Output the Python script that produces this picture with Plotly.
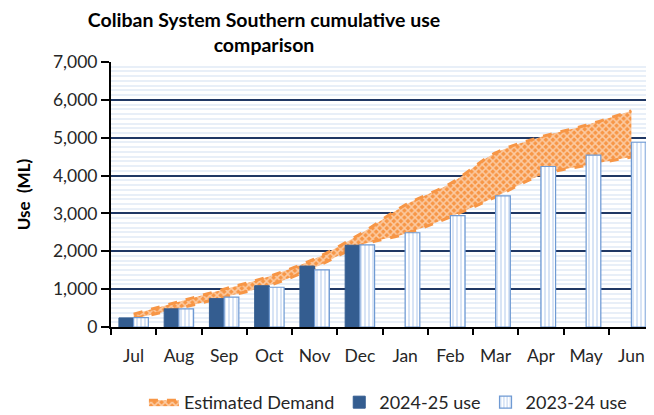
import plotly.graph_objects as go

months = ['Jul', 'Aug', 'Sep', 'Oct', 'Nov', 'Dec', 'Jan', 'Feb', 'Mar', 'Apr', 'May', 'Jun']
use_2024_25 = [240, 480, 750, 1090, 1610, 2160]
use_2023_24 = [250, 480, 790, 1050, 1510, 2170, 2490, 2940, 3465, 4240, 4540, 4880]
demand_low = [220, 490, 790, 1100, 1570, 2150, 2460, 2910, 3440, 4010, 4270, 4490]
demand_high = [340, 670, 1000, 1340, 1800, 2450, 3220, 3790, 4600, 5020, 5330, 5710]
y_ticks = [0, 1000, 2000, 3000, 4000, 5000, 6000, 7000]

FONT = "Lato"
ORANGE = "#f79646"
DARK = "#345d90"
LIGHT_LINE = "#6f9ad3"
LIGHT_STRIPE = "#a8c3ea"
TXT = "#262626"

# The page body has an 8px default margin, so the figure is sized to fit inside it.
W, H = 646, 407

fig = go.Figure()

# Estimated demand band (base subplot, drawn behind bars)
fig.add_trace(go.Scatter(
    x=months, y=demand_low, mode="lines",
    line=dict(color=ORANGE, width=3, dash="dash", shape="spline"),
    showlegend=False, hoverinfo="skip", xaxis="x", yaxis="y"))
fig.add_trace(go.Scatter(
    x=months, y=demand_high, mode="lines", name="Estimated Demand",
    line=dict(color=ORANGE, width=3, dash="dash", shape="spline"),
    fill="tonexty", fillcolor=ORANGE,
    fillpattern=dict(shape="x", bgcolor=ORANGE, fgcolor="white", size=5, solidity=0.5),
    xaxis="x", yaxis="y"))

# Bars (overlay subplot, drawn on top)
fig.add_trace(go.Bar(
    x=months[:len(use_2024_25)], y=use_2024_25, name="2024-25 use",
    marker=dict(color=DARK, line=dict(color=DARK, width=1)),
    xaxis="x2", yaxis="y2"))
fig.add_trace(go.Bar(
    x=months, y=use_2023_24, name="2023-24 use",
    marker=dict(color="white", line=dict(color=LIGHT_LINE, width=1.2),
                pattern=dict(shape="|", fgcolor=LIGHT_STRIPE, bgcolor="white", size=4, solidity=0.45)),
    xaxis="x2", yaxis="y2"))

fig.update_layout(
    width=W, height=H,
    margin=dict(l=103, r=0, t=54, b=88, autoexpand=False),
    paper_bgcolor="white", plot_bgcolor="white",
    font=dict(family=FONT, size=17.5, color=TXT),
    title=dict(text="<b>Coliban System Southern cumulative use<br>comparison</b>",
               x=256/W, xanchor="center", xref="container",
               y=0.953, yanchor="top", yref="container",
               font=dict(family=FONT, size=19.5, color="black")),
    barmode="group", bargap=0.35, bargroupgap=0,
    showlegend=True,
    legend=dict(orientation="h", x=0.51, xanchor="center", y=-0.215, yanchor="top",
                font=dict(family=FONT, size=18, color=TXT),
                traceorder="normal", bgcolor="rgba(0,0,0,0)"),
    xaxis=dict(type="category", categoryorder="array", categoryarray=months,
               range=[-0.5, 11.5], automargin=False,
               showline=True, linecolor="black", linewidth=2,
               ticks="outside", ticklen=6, tickcolor="black", tickwidth=1.5,
               tickson="boundaries", showgrid=False, ticklabelstandoff=12,
               tickfont=dict(family=FONT, size=17.5, color=TXT)),
    yaxis=dict(range=[0, 7000], tickvals=y_ticks, tickformat=",", automargin=False,
               ticksuffix="\u00a0\u00a0\u00a0",
               showline=True, linecolor="black", linewidth=2,
               ticks="outside", ticklen=8, tickcolor="black", tickwidth=1.5,
               showgrid=True, gridcolor="#203864", gridwidth=2,
               minor=dict(dtick=125, showgrid=True, gridcolor="#e8eff8", gridwidth=2),
               zeroline=False,
               title=dict(text="<b>Use  (ML)</b>", standoff=18,
                          font=dict(family=FONT, size=17, color="black")),
               tickfont=dict(family=FONT, size=17.5, color=TXT)),
    xaxis2=dict(type="category", categoryorder="array", categoryarray=months,
                range=[-0.5, 11.5], overlaying="x", visible=False),
    yaxis2=dict(range=[0, 7000], overlaying="y", visible=False),
)

fig.write_html("out.html")
